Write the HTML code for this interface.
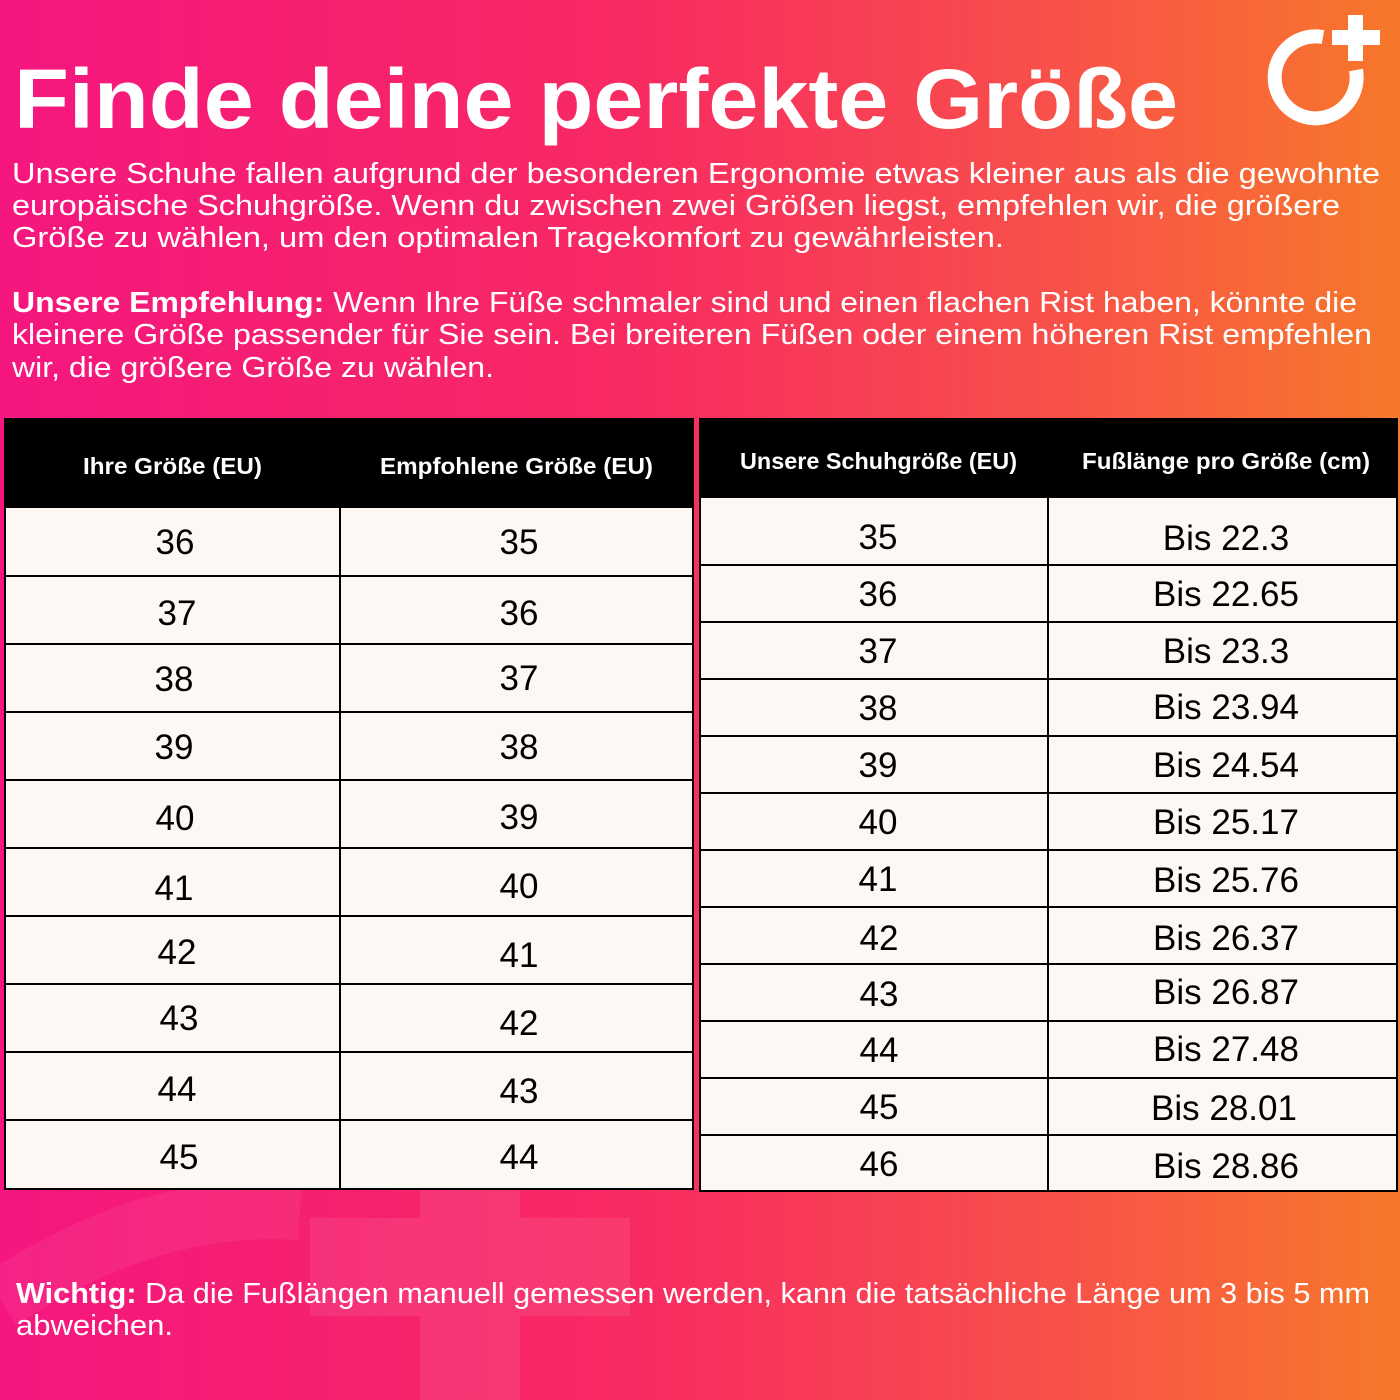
<!DOCTYPE html>
<html><head><meta charset="utf-8"><style>html,body{margin:0;padding:0;width:1400px;height:1400px;overflow:hidden}</style></head>
<body>
<svg width="1400" height="1400" viewBox="0 0 1400 1400" xmlns="http://www.w3.org/2000/svg" font-family="Liberation Sans, sans-serif" style="display:block">
<defs>
<linearGradient id="bg" x1="0" y1="0" x2="1" y2="0">
<stop offset="0" stop-color="#f5167f"/>
<stop offset="0.45" stop-color="#f82a62"/>
<stop offset="0.75" stop-color="#f8504a"/>
<stop offset="1" stop-color="#f7782a"/>
</linearGradient>
</defs>
<rect width="1400" height="1400" fill="url(#bg)"/>
<g fill="#fff" opacity="0.08">
<rect x="420" y="1190" width="100" height="210"/>
<rect x="310" y="1218" width="320" height="98"/>
</g>
<path d="M0 1300 Q150 1200 300 1210" fill="none" stroke="#fff" stroke-opacity="0.06" stroke-width="60"/>
<!-- logo -->
<path d="M1323 37 A41 41 0 1 0 1356 70" fill="none" stroke="#fff" stroke-width="14"/>
<rect x="1348" y="15" width="15" height="46" fill="#fff"/>
<rect x="1332" y="30" width="48" height="15" fill="#fff"/>
<g fill="#fff">
<text x="14" y="128" font-size="84" font-weight="bold" textLength="1164" lengthAdjust="spacingAndGlyphs">Finde deine perfekte Größe</text>
<g font-size="29">
<text x="12" y="183" textLength="1368" lengthAdjust="spacingAndGlyphs">Unsere Schuhe fallen aufgrund der besonderen Ergonomie etwas kleiner aus als die gewohnte</text>
<text x="12" y="215" textLength="1328" lengthAdjust="spacingAndGlyphs">europäische Schuhgröße. Wenn du zwischen zwei Größen liegst, empfehlen wir, die größere</text>
<text x="12" y="247" textLength="992" lengthAdjust="spacingAndGlyphs">Größe zu wählen, um den optimalen Tragekomfort zu gewährleisten.</text>
<text x="12" y="312" textLength="1345" lengthAdjust="spacingAndGlyphs"><tspan font-weight="bold">Unsere Empfehlung:</tspan> Wenn Ihre Füße schmaler sind und einen flachen Rist haben, könnte die</text>
<text x="12" y="344" textLength="1360" lengthAdjust="spacingAndGlyphs">kleinere Größe passender für Sie sein. Bei breiteren Füßen oder einem höheren Rist empfehlen</text>
<text x="12" y="377" textLength="482" lengthAdjust="spacingAndGlyphs">wir, die größere Größe zu wählen.</text>
<text x="16" y="1303" textLength="1354" lengthAdjust="spacingAndGlyphs"><tspan font-weight="bold">Wichtig:</tspan> Da die Fußlängen manuell gemessen werden, kann die tatsächliche Länge um 3 bis 5 mm</text>
<text x="16" y="1335" textLength="157" lengthAdjust="spacingAndGlyphs">abweichen.</text>
</g>
</g>
<!-- left table -->
<rect x="5" y="419" width="688" height="770" fill="#fdf8f4" stroke="#000" stroke-width="2"/>
<rect x="5" y="419" width="688" height="89" fill="#000"/>
<g stroke="#000" stroke-width="2">
<line x1="340" y1="508" x2="340" y2="1189"/>
<line x1="5" y1="576" x2="693" y2="576"/><line x1="5" y1="644" x2="693" y2="644"/>
<line x1="5" y1="712" x2="693" y2="712"/><line x1="5" y1="780" x2="693" y2="780"/>
<line x1="5" y1="848" x2="693" y2="848"/><line x1="5" y1="916" x2="693" y2="916"/>
<line x1="5" y1="984" x2="693" y2="984"/><line x1="5" y1="1052" x2="693" y2="1052"/>
<line x1="5" y1="1120" x2="693" y2="1120"/>
</g>
<!-- right table -->
<rect x="700" y="419" width="697" height="772" fill="#fdf8f4" stroke="#000" stroke-width="2"/>
<rect x="700" y="419" width="697" height="79" fill="#000"/>
<g stroke="#000" stroke-width="2">
<line x1="1048" y1="498" x2="1048" y2="1191"/>
<line x1="700" y1="565" x2="1397" y2="565"/><line x1="700" y1="622" x2="1397" y2="622"/>
<line x1="700" y1="679" x2="1397" y2="679"/><line x1="700" y1="736" x2="1397" y2="736"/>
<line x1="700" y1="793" x2="1397" y2="793"/><line x1="700" y1="850" x2="1397" y2="850"/>
<line x1="700" y1="907" x2="1397" y2="907"/><line x1="700" y1="964" x2="1397" y2="964"/>
<line x1="700" y1="1021" x2="1397" y2="1021"/><line x1="700" y1="1078" x2="1397" y2="1078"/>
<line x1="700" y1="1135" x2="1397" y2="1135"/>
</g>
<g fill="#fff" font-size="23" font-weight="bold">
<text x="83" y="474" textLength="179" lengthAdjust="spacingAndGlyphs">Ihre Größe (EU)</text>
<text x="380" y="474" textLength="273" lengthAdjust="spacingAndGlyphs">Empfohlene Größe (EU)</text>
<text x="740" y="469" textLength="277" lengthAdjust="spacingAndGlyphs">Unsere Schuhgröße (EU)</text>
<text x="1082" y="469" textLength="288" lengthAdjust="spacingAndGlyphs">Fußlänge pro Größe (cm)</text>
</g>
<g fill="#000" font-size="35" text-anchor="middle">
<text x="175" y="554">36</text><text x="519" y="554">35</text>
<text x="177" y="625">37</text><text x="519" y="625">36</text>
<text x="174" y="691">38</text><text x="519" y="690">37</text>
<text x="174" y="759">39</text><text x="519" y="759">38</text>
<text x="175" y="830">40</text><text x="519" y="829">39</text>
<text x="174" y="900">41</text><text x="519" y="898">40</text>
<text x="177" y="964">42</text><text x="519" y="967">41</text>
<text x="179" y="1030">43</text><text x="519" y="1035">42</text>
<text x="177" y="1101">44</text><text x="519" y="1103">43</text>
<text x="179" y="1169">45</text><text x="519" y="1169">44</text>
</g>
<g fill="#000" font-size="35" text-anchor="middle">
<text x="878" y="549">35</text><text x="1226" y="550">Bis 22.3</text>
<text x="878" y="606">36</text><text x="1226" y="606">Bis 22.65</text>
<text x="878" y="663">37</text><text x="1226" y="663">Bis 23.3</text>
<text x="878" y="720">38</text><text x="1226" y="719">Bis 23.94</text>
<text x="878" y="777">39</text><text x="1226" y="777">Bis 24.54</text>
<text x="878" y="834">40</text><text x="1226" y="834">Bis 25.17</text>
<text x="878" y="891">41</text><text x="1226" y="892">Bis 25.76</text>
<text x="879" y="950">42</text><text x="1226" y="950">Bis 26.37</text>
<text x="879" y="1006">43</text><text x="1226" y="1004">Bis 26.87</text>
<text x="879" y="1062">44</text><text x="1226" y="1061">Bis 27.48</text>
<text x="879" y="1119">45</text><text x="1224" y="1120">Bis 28.01</text>
<text x="879" y="1176">46</text><text x="1226" y="1178">Bis 28.86</text>
</g>
</svg>
</body></html>
